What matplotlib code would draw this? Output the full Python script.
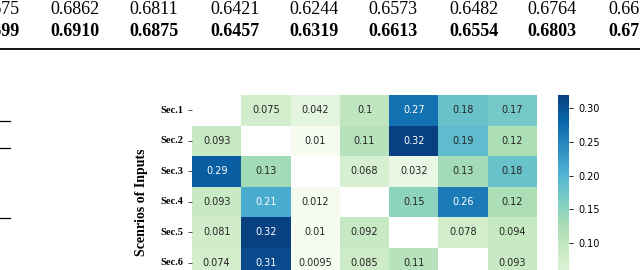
import numpy as np
import matplotlib
matplotlib.use("Agg")
import matplotlib.pyplot as plt
import seaborn as sns

# valores das duas linhas da tabela (cortadas nas bordas)
linha_normal = ["0.6675", "0.6862", "0.6811", "0.6421", "0.6244", "0.6573", "0.6482", "0.6764", "0.6650"]
linha_negrito = ["0.6699", "0.6910", "0.6875", "0.6457", "0.6319", "0.6613", "0.6554", "0.6803", "0.6712"]

# rótulos do mapa de calor
cenarios = ["Sec.1", "Sec.2", "Sec.3", "Sec.4", "Sec.5", "Sec.6"]
colunas = ["Sec.1", "Sec.2", "Sec.3", "Sec.4", "Sec.5", "Sec.6", "Sec.7"]

nan = np.nan
sec1 = [nan, 0.075, 0.042, 0.1, 0.27, 0.18, 0.17]
sec2 = [0.093, nan, 0.01, 0.11, 0.32, 0.19, 0.12]
sec3 = [0.29, 0.13, nan, 0.068, 0.032, 0.13, 0.18]
sec4 = [0.093, 0.21, 0.012, nan, 0.15, 0.26, 0.12]
sec5 = [0.081, 0.32, 0.01, 0.092, nan, 0.078, 0.094]
sec6 = [0.074, 0.31, 0.0095, 0.085, 0.11, nan, 0.093]

W, H = 640, 270
fig = plt.figure(figsize=(W / 100, H / 100), dpi=100)

def fx(px):
    return px / W

def fy(py):
    return 1 - py / H

# --- tabela no topo ---
centros = [-5, 75, 154, 235, 314, 393, 474, 552, 633]
for cx, a, b in zip(centros, linha_normal, linha_negrito):
    fig.text(fx(cx), fy(9), a, ha="center", va="center", fontsize=13,
             family="Liberation Serif")
    fig.text(fx(cx), fy(31), b, ha="center", va="center", fontsize=13,
             family="Liberation Serif", fontweight="bold")

fig.add_artist(plt.Line2D([0, 1], [fy(48.5), fy(48.5)], color="black", lw=1.3))

# pedaços de linhas da tabela ao lado
for py in [121, 148, 218]:
    fig.add_artist(plt.Line2D([0, fx(10)], [fy(py), fy(py)], color="black", lw=0.9))

# --- mapa de calor ---
dados = np.array([sec1, sec2, sec3, sec4, sec5, sec6])
ax = fig.add_axes([fx(192), fy(278), fx(537) - fx(192), fy(95) - fy(278)])
cax = fig.add_axes([fx(558), fy(304), fx(569) - fx(558), fy(95) - fy(304)])

sns.heatmap(dados, ax=ax, cbar_ax=cax, cmap="GnBu", annot=True, fmt=".2g",
            vmin=0.0095, vmax=0.32,
            annot_kws={"fontsize": 7}, xticklabels=colunas, yticklabels=cenarios)

ax.set_yticklabels(cenarios, rotation=0, fontsize=7.5, family="Liberation Serif",
                   fontweight="bold")
ax.tick_params(axis="y", length=3, width=0.6, pad=3, color="#333333")
ax.tick_params(axis="x", bottom=False, labelbottom=False)

cax.tick_params(labelsize=7, length=3, width=0.6)
cax.set_yticks([0.10, 0.15, 0.20, 0.25, 0.30])

fig.text(fx(141), fy(202), "Scenrios of Inputs", rotation=90, ha="center", va="center",
         fontsize=10, family="Liberation Serif", fontweight="bold")

plt.savefig("out.png", dpi=100)
